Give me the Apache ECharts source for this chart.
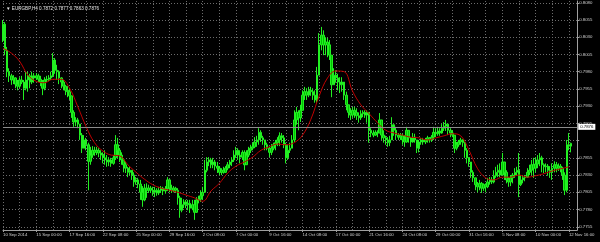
<!DOCTYPE html>
<html><head><meta charset="utf-8">
<script src="https://cdn.jsdelivr.net/npm/echarts@6/dist/echarts.min.js"></script>
<style>html,body{margin:0;padding:0;background:#000}#c{width:600px;height:242px}</style>
</head><body><div id="c"></div>
<script>
// EURGBP H4 chart, values in pips (1 pip = 0.0001)
const symbol = 'EURGBP,H4';
const tickLabels = ['10 Sep 2014','15 Sep 00:00','17 Sep 16:00','22 Sep 08:00','25 Sep 00:00','29 Sep 16:00','2 Oct 08:00','7 Oct 00:00','9 Oct 16:00','14 Oct 08:00','17 Oct 00:00','21 Oct 16:00','24 Oct 08:00','29 Oct 00:00','31 Oct 16:00','5 Nov 08:00','10 Nov 00:00','12 Nov 16:00'];
const priceTicks = [0.7755,0.7780,0.7805,0.7830,0.7855,0.7880,0.7905,0.7930,0.7955,0.7980,0.8005,0.8030,0.8055,0.8080];
const bidPrice = 0.7876;

const openPips = [
8026,8049,8011,7980,7974,7968,7971,7962,7959,7968,
7965,7956,7968,7974,7965,7974,7971,7974,7969,7965,
7956,7968,7969,7971,7974,7997,7982,7980,7971,7965,
7959,7953,7951,7945,7921,7907,7910,7904,7888,7869,
7881,7874,7850,7859,7866,7863,7866,7862,7859,7855,
7852,7849,7852,7847,7855,7874,7866,7859,7852,7845,
7840,7834,7837,7830,7820,7823,7817,7805,7794,7811,
7808,7811,7808,7805,7808,7804,7808,7811,7807,7810,
7823,7811,7808,7811,7808,7797,7779,7787,7791,7787,
7789,7782,7787,7776,7794,7795,7800,7805,7837,7849,
7852,7845,7849,7843,7840,7834,7837,7834,7840,7845,
7849,7852,7859,7866,7859,7856,7863,7845,7859,7866,
7869,7871,7878,7881,7892,7884,7881,7874,7869,7863,
7869,7874,7877,7881,7887,7884,7874,7855,7866,7869,
7881,7910,7921,7913,7924,7946,7951,7946,7953,7951,
7946,7939,7975,8019,8033,8019,8023,8019,8004,7961,
7975,7971,7965,7961,7965,7946,7932,7921,7917,7924,
7921,7916,7913,7919,7921,7917,7921,7895,7891,7888,
7892,7891,7910,7888,7884,7881,7877,7881,7903,7895,
7888,7885,7887,7881,7878,7895,7884,7878,7885,7881,
7869,7878,7881,7878,7881,7884,7881,7885,7892,7890,
7894,7891,7898,7901,7904,7895,7891,7888,7869,7874,
7878,7881,7877,7866,7855,7849,7834,7826,7816,7813,
7818,7811,7816,7813,7820,7823,7820,7829,7834,7837,
7830,7849,7834,7823,7820,7826,7830,7834,7837,7816,
7823,7826,7827,7834,7837,7845,7840,7846,7852,7855,
7845,7842,7843,7837,7834,7840,7845,7840,7843,7840,
7830,7808,7874,7872];
const closePips = [
8049,8011,7980,7974,7968,7971,7962,7959,7968,7965,
7956,7968,7974,7965,7974,7971,7974,7969,7965,7956,
7968,7969,7971,7974,7997,7982,7980,7971,7965,7959,
7953,7951,7945,7921,7907,7910,7904,7888,7869,7881,
7874,7850,7859,7866,7863,7866,7862,7859,7855,7852,
7849,7852,7847,7855,7874,7866,7859,7852,7845,7840,
7834,7837,7830,7820,7823,7817,7805,7794,7811,7808,
7811,7808,7805,7808,7804,7808,7811,7807,7810,7823,
7811,7808,7811,7808,7797,7779,7787,7791,7787,7789,
7782,7787,7776,7794,7795,7800,7805,7837,7849,7852,
7845,7849,7843,7840,7834,7837,7834,7840,7845,7849,
7852,7859,7866,7859,7856,7863,7845,7859,7866,7869,
7871,7878,7881,7892,7884,7881,7874,7869,7863,7869,
7874,7877,7881,7887,7884,7874,7855,7866,7869,7881,
7910,7921,7913,7924,7946,7951,7946,7953,7951,7946,
7939,7975,8019,8033,8019,8023,8019,8004,7961,7975,
7971,7965,7961,7965,7946,7932,7921,7917,7924,7921,
7916,7913,7919,7921,7917,7921,7895,7891,7888,7892,
7891,7910,7888,7884,7881,7877,7881,7903,7895,7888,
7885,7887,7881,7878,7895,7884,7878,7885,7881,7869,
7878,7881,7878,7881,7884,7881,7885,7892,7890,7894,
7891,7898,7901,7904,7895,7891,7888,7869,7874,7878,
7881,7877,7866,7855,7849,7834,7826,7816,7813,7818,
7811,7816,7813,7820,7823,7820,7829,7834,7837,7830,
7849,7834,7823,7820,7826,7830,7834,7837,7816,7823,
7826,7827,7834,7837,7845,7840,7846,7852,7855,7845,
7842,7843,7837,7834,7840,7845,7840,7843,7840,7830,
7808,7874,7872,7876];
const highPips = [
8055,8052,8016,7985,7977,7975,7972,7968,7972,7974,
7968,7980,7980,7977,7980,7978,7978,7977,7974,7968,
7972,7974,7975,7980,8007,8000,7990,7982,7972,7968,
7961,7959,7956,7945,7924,7914,7913,7904,7891,7888,
7884,7877,7871,7872,7871,7871,7869,7866,7863,7866,
7859,7856,7855,7859,7888,7884,7869,7863,7852,7849,
7842,7843,7837,7834,7827,7826,7823,7814,7817,7818,
7816,7814,7813,7813,7811,7813,7814,7813,7814,7827,
7824,7816,7814,7813,7811,7800,7797,7795,7794,7794,
7794,7794,7794,7798,7800,7808,7813,7852,7856,7856,
7855,7855,7852,7849,7843,7840,7842,7843,7849,7852,
7856,7866,7871,7869,7866,7866,7866,7866,7871,7874,
7877,7885,7887,7898,7895,7887,7881,7877,7871,7875,
7877,7881,7885,7892,7891,7888,7877,7874,7877,7888,
7924,7929,7924,7932,7953,7958,7956,7958,7958,7956,
7953,7987,8036,8045,8040,8030,8029,8026,8004,7985,
7982,7977,7972,7972,7965,7951,7932,7927,7929,7929,
7927,7921,7924,7924,7924,7924,7921,7898,7895,7895,
7895,7920,7910,7895,7887,7885,7887,7914,7904,7900,
7891,7891,7890,7888,7900,7895,7885,7891,7890,7881,
7881,7884,7884,7884,7887,7885,7888,7900,7898,7900,
7898,7904,7907,7910,7904,7898,7895,7888,7878,7881,
7884,7882,7878,7869,7856,7849,7837,7826,7820,7823,
7820,7818,7818,7826,7827,7827,7837,7842,7845,7847,
7862,7849,7837,7827,7830,7833,7840,7842,7862,7830,
7829,7830,7840,7845,7852,7855,7856,7859,7862,7858,
7847,7847,7846,7843,7847,7850,7849,7847,7846,7842,
7834,7881,7891,7877];
const lowPips = [
8023,8004,7972,7965,7961,7962,7956,7953,7956,7962,
7939,7953,7951,7956,7962,7964,7968,7965,7959,7946,
7953,7965,7966,7968,7972,7977,7968,7962,7956,7953,
7946,7943,7939,7913,7900,7901,7898,7881,7862,7869,
7866,7808,7845,7855,7858,7859,7856,7852,7847,7845,
7842,7843,7842,7845,7852,7855,7849,7845,7834,7833,
7827,7830,7823,7813,7816,7811,7794,7784,7792,7797,
7804,7804,7800,7798,7800,7801,7804,7801,7803,7807,
7805,7804,7805,7804,7787,7768,7776,7782,7782,7779,
7775,7779,7765,7775,7789,7791,7794,7805,7834,7843,
7840,7840,7837,7833,7830,7830,7832,7833,7837,7840,
7843,7849,7855,7852,7847,7852,7837,7845,7856,7862,
7866,7869,7871,7874,7878,7874,7866,7866,7856,7859,
7866,7866,7872,7872,7877,7869,7847,7852,7862,7869,
7878,7903,7895,7907,7924,7939,7939,7943,7945,7939,
7935,7935,7975,8011,8004,8004,8001,7997,7943,7961,
7964,7953,7949,7951,7939,7924,7913,7910,7913,7913,
7910,7906,7910,7914,7913,7906,7877,7885,7885,7887,
7885,7891,7881,7877,7874,7871,7872,7881,7887,7881,
7881,7881,7874,7871,7877,7877,7871,7877,7877,7862,
7863,7874,7874,7875,7877,7877,7878,7881,7885,7887,
7887,7890,7894,7894,7888,7885,7885,7862,7866,7871,
7874,7871,7855,7847,7842,7826,7820,7808,7805,7808,
7804,7807,7805,7811,7816,7817,7818,7826,7827,7827,
7830,7823,7818,7813,7814,7818,7826,7830,7798,7814,
7818,7821,7826,7830,7830,7826,7834,7840,7843,7834,
7833,7834,7829,7826,7823,7834,7834,7836,7834,7823,
7801,7805,7866,7863];
// moving average (red line), read every 4th bar
const maPips = [
8014,8007,7995,7975,7966,7964,7969,7969,7956,7929,
7900,7877,7865,7859,7858,7845,7834,7824,7816,7811,
7808,7805,7801,7797,7792,7807,7818,7833,7843,7849,
7856,7866,7871,7875,7874,7877,7888,7911,7945,7971,
7981,7980,7952,7932,7919,7906,7895,7891,7888,7885,
7884,7881,7884,7887,7890,7887,7866,7840,7826,7823,
7827,7827,7830,7827,7829,7832,7836,7839,7842];
const maStep = 4;
const barsPerLabel = 16;
const gridEvery = 8;
const padBars = 3;

const n = closePips.length;
const cats = [];
for (let i = 0; i < n + padBars; i++) cats.push(String(i));
const candles = closePips.map((c, i) => [openPips[i] / 1e4, c / 1e4, lowPips[i] / 1e4, highPips[i] / 1e4]);
const ma = maPips.map((v, k) => [k * maStep, v / 1e4]);
const last = n - 1;
const fmt = v => (v / 1e4).toFixed(4);
const titleText = '\u25BC ' + symbol + ' ' + [openPips[last], highPips[last], lowPips[last], closePips[last]].map(fmt).join(' ');
const FONT = '"Liberation Sans", Arial, sans-serif';
const LBL = '#d2d2d2';
const AX = '#a0a0a0';
const GRID = '#6c6c6c';

const chart = echarts.init(document.getElementById('c'), null, {renderer: 'canvas'});
chart.setOption({
  backgroundColor: '#000',
  animation: false,
  title: {text: titleText, left: 1, top: 1, textStyle: {color: '#e6e6e6', fontSize: 4.6, fontWeight: 'normal', fontFamily: FONT}},
  grid: {left: 2.3, right: 22.8, top: 1, bottom: 12},
  xAxis: {
    type: 'category', data: cats, boundaryGap: false,
    axisLine: {show: true, lineStyle: {color: AX, width: 1}},
    axisTick: {show: true, length: 2, interval: i => i % barsPerLabel === 0, lineStyle: {color: AX}},
    axisLabel: {show: true, interval: i => i % barsPerLabel === 0 && i / barsPerLabel < tickLabels.length,
      formatter: (v, i) => tickLabels[i / barsPerLabel] || '', align: 'left', color: LBL, fontSize: 4.3, margin: 3, fontFamily: FONT},
    splitLine: {show: true, interval: i => i % gridEvery === 0, lineStyle: {color: GRID, type: [1, 2], width: 1}}
  },
  yAxis: {
    type: 'value', position: 'right', min: 0.77503, max: 0.80826,
    axisLine: {show: true, lineStyle: {color: AX}},
    axisTick: {show: true, length: 2, customValues: priceTicks, lineStyle: {color: AX}},
    axisLabel: {show: true, customValues: priceTicks.filter(v => Math.abs(v - bidPrice) > 0.0008),
      formatter: v => Number(v).toFixed(4), color: LBL, fontSize: 4.3, margin: 2, fontFamily: FONT},
    splitLine: {show: true, lineStyle: {color: GRID, type: [1, 2], width: 1}}
  },
  series: [
    {type: 'candlestick', data: candles, barWidth: 2,
      itemStyle: {color: '#00c400', color0: '#00c400', borderColor: '#22f022', borderColor0: '#22f022', borderWidth: 1},
      markLine: {silent: true, symbol: 'none', animation: false, data: [{yAxis: bidPrice}],
        lineStyle: {color: '#8c8c8c', type: 'solid', width: 1},
        label: {show: true, position: 'end', formatter: bidPrice.toFixed(4), backgroundColor: '#fff', color: '#000',
          fontSize: 4.3, padding: [1, 2], distance: 1, fontFamily: FONT}}},
    {type: 'line', data: ma, connectNulls: true, smooth: 0.4, symbol: 'none', lineStyle: {color: '#c00000', width: 1}, z: 3}
  ]
});
</script></body></html>
